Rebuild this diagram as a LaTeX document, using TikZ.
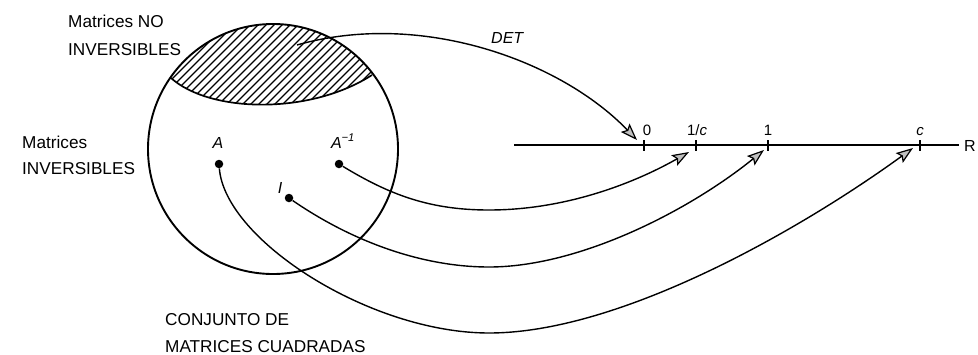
\documentclass[tikz,border=0pt]{standalone}
\usepackage{fontspec}
\setmainfont{Liberation Sans}
\usetikzlibrary{arrows.meta}
\tikzset{
  lbl/.style={font=\fontsize{17.2}{17.2}\selectfont, anchor=base west, inner sep=0pt},
  ilbl/.style={font=\fontsize{16}{16}\selectfont\itshape, anchor=base, inner sep=0pt},
  tlbl/.style={font=\fontsize{15}{15}\selectfont, anchor=base, inner sep=0pt},
  dotnode/.style={circle, fill=black, inner sep=0pt, minimum size=8.5pt},
  maparrow/.style={line width=1.4pt, -{Stealth[length=17pt,width=12pt,inset=3pt,fill=gray!50,line width=1.2pt]}},
  tickmark/.style={line width=1.5pt},
}
\begin{document}
\begin{tikzpicture}[x=1pt,y=-1pt]
\useasboundingbox (0,0) rectangle (978,354);
% hatched region
\begin{scope}
  \clip (273,149) circle (125);
  \clip (140,0) -- (140,78) -- (171,78) .. controls (210,113) and (310,115) .. (372,75) -- (410,60) -- (410,0) -- cycle;
  \foreach \i in {-160,-152,...,460} {\draw[line width=1.1pt] (\i,115) -- ++(115,-115);}
\end{scope}
\draw[line width=1.7pt] (171,78) .. controls (210,113) and (310,115) .. (372,75);
% circle
\draw[line width=1.9pt] (273,149) circle (125);
% texts
\node[lbl] (tno1) at (68,27) {Matrices NO};
\node[lbl] (tno2) at (68,55) {INVERSIBLES};
\node[lbl] (tinv1) at (22,148) {Matrices};
\node[lbl] (tinv2) at (22,174) {INVERSIBLES};
\node[lbl] (tcon1) at (165,325) {CONJUNTO DE};
\node[lbl] (tcon2) at (165,352) {MATRICES CUADRADAS};
\node[ilbl, anchor=base west] (tdet) at (491,43) {DET};
% points
\node[dotnode] (dA) at (219,164) {};
\node[dotnode] (dAi) at (339,164) {};
\node[dotnode] (dI) at (289,198) {};
\node[ilbl] (lA) at (218,148) {A};
\node[ilbl] (lAi) at (343,148) {A\textsuperscript{−1}};
\node[ilbl] (lI) at (280,193) {I};
% number line
\coordinate (ls) at (514,145);
\coordinate (le) at (959,145);
\draw[line width=1.5pt] (ls) -- (le);
\node[font=\fontsize{16}{16}\selectfont, anchor=west, inner sep=0pt] (lR) at (964,146) {R};
\foreach \n/\x in {t0/644, tci/696, tone/768, tc/920} {
  \coordinate (\n) at (\x,145);
  \draw[tickmark] (\x,140) -- (\x,151);
}
\node[tlbl] (l0) at (647,135) {0};
\node[tlbl] (lci) at (697,135) {1/\textit{c}};
\node[tlbl] (lone) at (768,135) {1};
\node[tlbl] (lc) at (920,135) {\textit{c}};
% arrow end points
\coordinate (detstart) at (297,45);
\coordinate (e0) at (637,140);
\coordinate (eci) at (689,152);
\coordinate (eone) at (764,150);
\coordinate (ec) at (913,148);
% DET arrow
\draw[maparrow] (detstart) .. controls (420,10) and (560,60) .. (e0);
% mapping arrows
\draw[maparrow] (dAi) .. controls (390,195) and (430,210) .. (489,210) .. controls (570,210) and (640,180) .. (eci);
\draw[maparrow] (dI) .. controls (350,240) and (420,267) .. (489,267) .. controls (580,267) and (690,210) .. (eone);
\draw[maparrow] (dA) .. controls (225,240) and (370,333) .. (489,333) .. controls (620,333) and (800,230) .. (ec);
\end{tikzpicture}
\end{document}
